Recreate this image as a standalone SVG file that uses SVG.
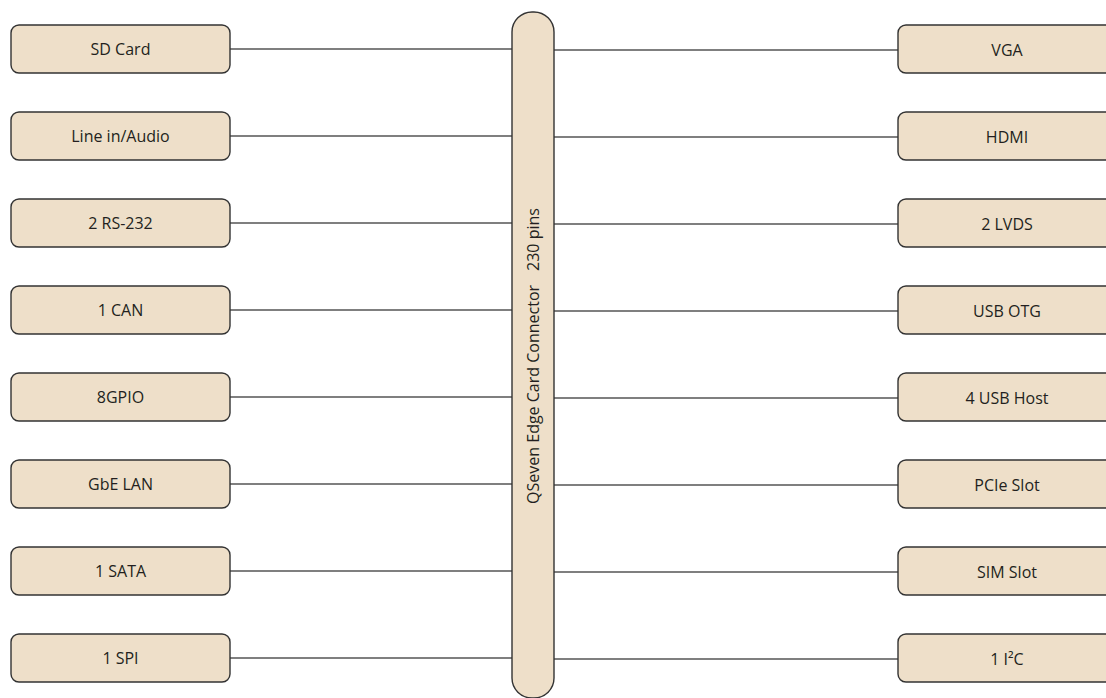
<svg xmlns="http://www.w3.org/2000/svg" width="1106" height="698" viewBox="0 0 1106 698">
<style>
.box{fill:#EEDFC9;stroke:#333;stroke-width:1.4}
.t{font-family:"Open Sans","Noto Sans",sans-serif;font-size:16px;fill:#231F20;text-anchor:middle}
.c{stroke:#555;stroke-width:1.3;fill:none}
</style>
<rect width="1106" height="698" fill="#fff"/>
<g id="connectors">
<path class="c" d="M230 49H512M230 136H512M230 223H512M230 310H512M230 397H512M230 484H512M230 571H512M230 658H512"/>
<path class="c" d="M554 50H898M554 137H898M554 224H898M554 311H898M554 398H898M554 485H898M554 572H898M554 659H898"/>
</g>
<g id="connector-bar">
<rect class="box" x="512" y="12" width="42" height="686" rx="20"/>
<text class="t" transform="translate(539,356) rotate(-90)">QSeven Edge Card Connector<tspan dx="14">230 pins</tspan></text>
</g>
<g id="sd-card"><rect class="box" x="11" y="25" width="219" height="48" rx="8"/><text class="t" x="120.5" y="55">SD Card</text></g>
<g id="line-in-audio"><rect class="box" x="11" y="112" width="219" height="48" rx="8"/><text class="t" x="120.5" y="142">Line in/Audio</text></g>
<g id="rs232"><rect class="box" x="11" y="199" width="219" height="48" rx="8"/><text class="t" x="120.5" y="229">2 RS-232</text></g>
<g id="can"><rect class="box" x="11" y="286" width="219" height="48" rx="8"/><text class="t" x="120.5" y="316">1 CAN</text></g>
<g id="gpio"><rect class="box" x="11" y="373" width="219" height="48" rx="8"/><text class="t" x="120.5" y="403">8GPIO</text></g>
<g id="gbe-lan"><rect class="box" x="11" y="460" width="219" height="48" rx="8"/><text class="t" x="120.5" y="490">GbE LAN</text></g>
<g id="sata"><rect class="box" x="11" y="547" width="219" height="48" rx="8"/><text class="t" x="120.5" y="577">1 SATA</text></g>
<g id="spi"><rect class="box" x="11" y="634" width="219" height="48" rx="8"/><text class="t" x="120.5" y="664">1 SPI</text></g>
<g id="vga"><rect class="box" x="898" y="25" width="230" height="48" rx="8"/><text class="t" x="1007" y="56">VGA</text></g>
<g id="hdmi"><rect class="box" x="898" y="112" width="230" height="48" rx="8"/><text class="t" x="1007" y="143">HDMI</text></g>
<g id="lvds"><rect class="box" x="898" y="199" width="230" height="48" rx="8"/><text class="t" x="1007" y="230">2 LVDS</text></g>
<g id="usb-otg"><rect class="box" x="898" y="286" width="230" height="48" rx="8"/><text class="t" x="1007" y="317">USB OTG</text></g>
<g id="usb-host"><rect class="box" x="898" y="373" width="230" height="48" rx="8"/><text class="t" x="1007" y="404">4 USB Host</text></g>
<g id="pcie-slot"><rect class="box" x="898" y="460" width="230" height="48" rx="8"/><text class="t" x="1007" y="491">PCIe Slot</text></g>
<g id="sim-slot"><rect class="box" x="898" y="547" width="230" height="48" rx="8"/><text class="t" x="1007" y="578">SIM Slot</text></g>
<g id="i2c"><rect class="box" x="898" y="634" width="230" height="48" rx="8"/><text class="t" x="1007" y="665">1 I²C</text></g>
</svg>
